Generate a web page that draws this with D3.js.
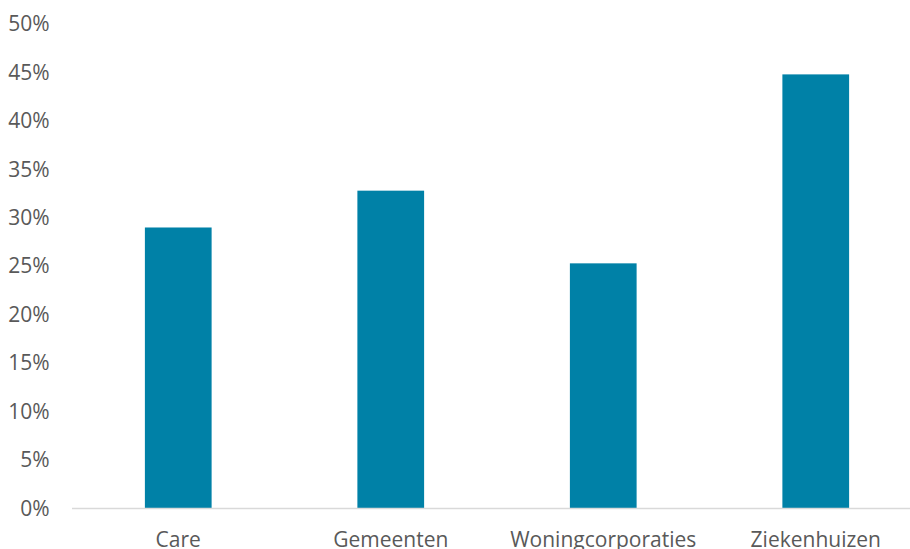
<!DOCTYPE html>
<html>
<head>
<meta charset="utf-8">
<script src="https://cdn.jsdelivr.net/npm/d3@7"></script>
<style>
  html, body { margin: 0; padding: 0; background: #ffffff; }
  svg { display: block; }
  text { font-family: "Open Sans", "Noto Sans", sans-serif; fill: #595959; }
</style>
</head>
<body>
<div id="chart"></div>
<script>
// Share per sector
const categories = ["Care", "Gemeenten", "Woningcorporaties", "Ziekenhuizen"];
const values = [0.29, 0.328, 0.253, 0.448];
const yTicks = [0, 0.05, 0.10, 0.15, 0.20, 0.25, 0.30, 0.35, 0.40, 0.45, 0.50];

const width = 910, height = 549;
const plot = { left: 72, right: 922, top: 24, bottom: 508.5 };

const svg = d3.select("#chart").append("svg")
  .attr("width", width)
  .attr("height", height);

const x = d3.scaleBand()
  .domain(categories)
  .range([plot.left, plot.right])
  .paddingInner(0.686)
  .paddingOuter(0.343);

const y = d3.scaleLinear()
  .domain([0, 0.5])
  .range([plot.bottom, plot.top]);

// Y axis labels (no axis line, no ticks)
const yAxis = d3.axisLeft(y)
  .tickValues(yTicks)
  .tickFormat(d3.format(".0%"))
  .tickSize(0)
  .tickPadding(0);

svg.append("g")
  .attr("transform", `translate(49.5,0)`)
  .call(yAxis)
  .call(g => g.select(".domain").remove())
  .call(g => g.selectAll("text")
    .attr("font-size", 21)
    .attr("fill", "#595959")
    .style("font-family", "'Open Sans', sans-serif"));

// Bars
svg.append("g")
  .selectAll("rect")
  .data(categories)
  .join("rect")
  .attr("x", d => x(d))
  .attr("width", x.bandwidth())
  .attr("y", (d, i) => y(values[i]))
  .attr("height", (d, i) => y(0) - y(values[i]))
  .attr("fill", "#0081A7");

// Baseline
svg.append("line")
  .attr("x1", plot.left)
  .attr("x2", width)
  .attr("y1", y(0))
  .attr("y2", y(0))
  .attr("stroke", "#d9d9d9")
  .attr("stroke-width", 1.5);

// Category labels
const xAxis = d3.axisBottom(x).tickSize(0).tickPadding(0);
svg.append("g")
  .attr("transform", `translate(0,${y(0)})`)
  .call(xAxis)
  .call(g => g.select(".domain").remove())
  .call(g => g.selectAll("text")
    .attr("y", 38)
    .attr("dy", "0")
    .attr("font-size", 21)
    .attr("fill", "#595959")
    .style("font-family", "'Open Sans', sans-serif"));
</script>
</body>
</html>
